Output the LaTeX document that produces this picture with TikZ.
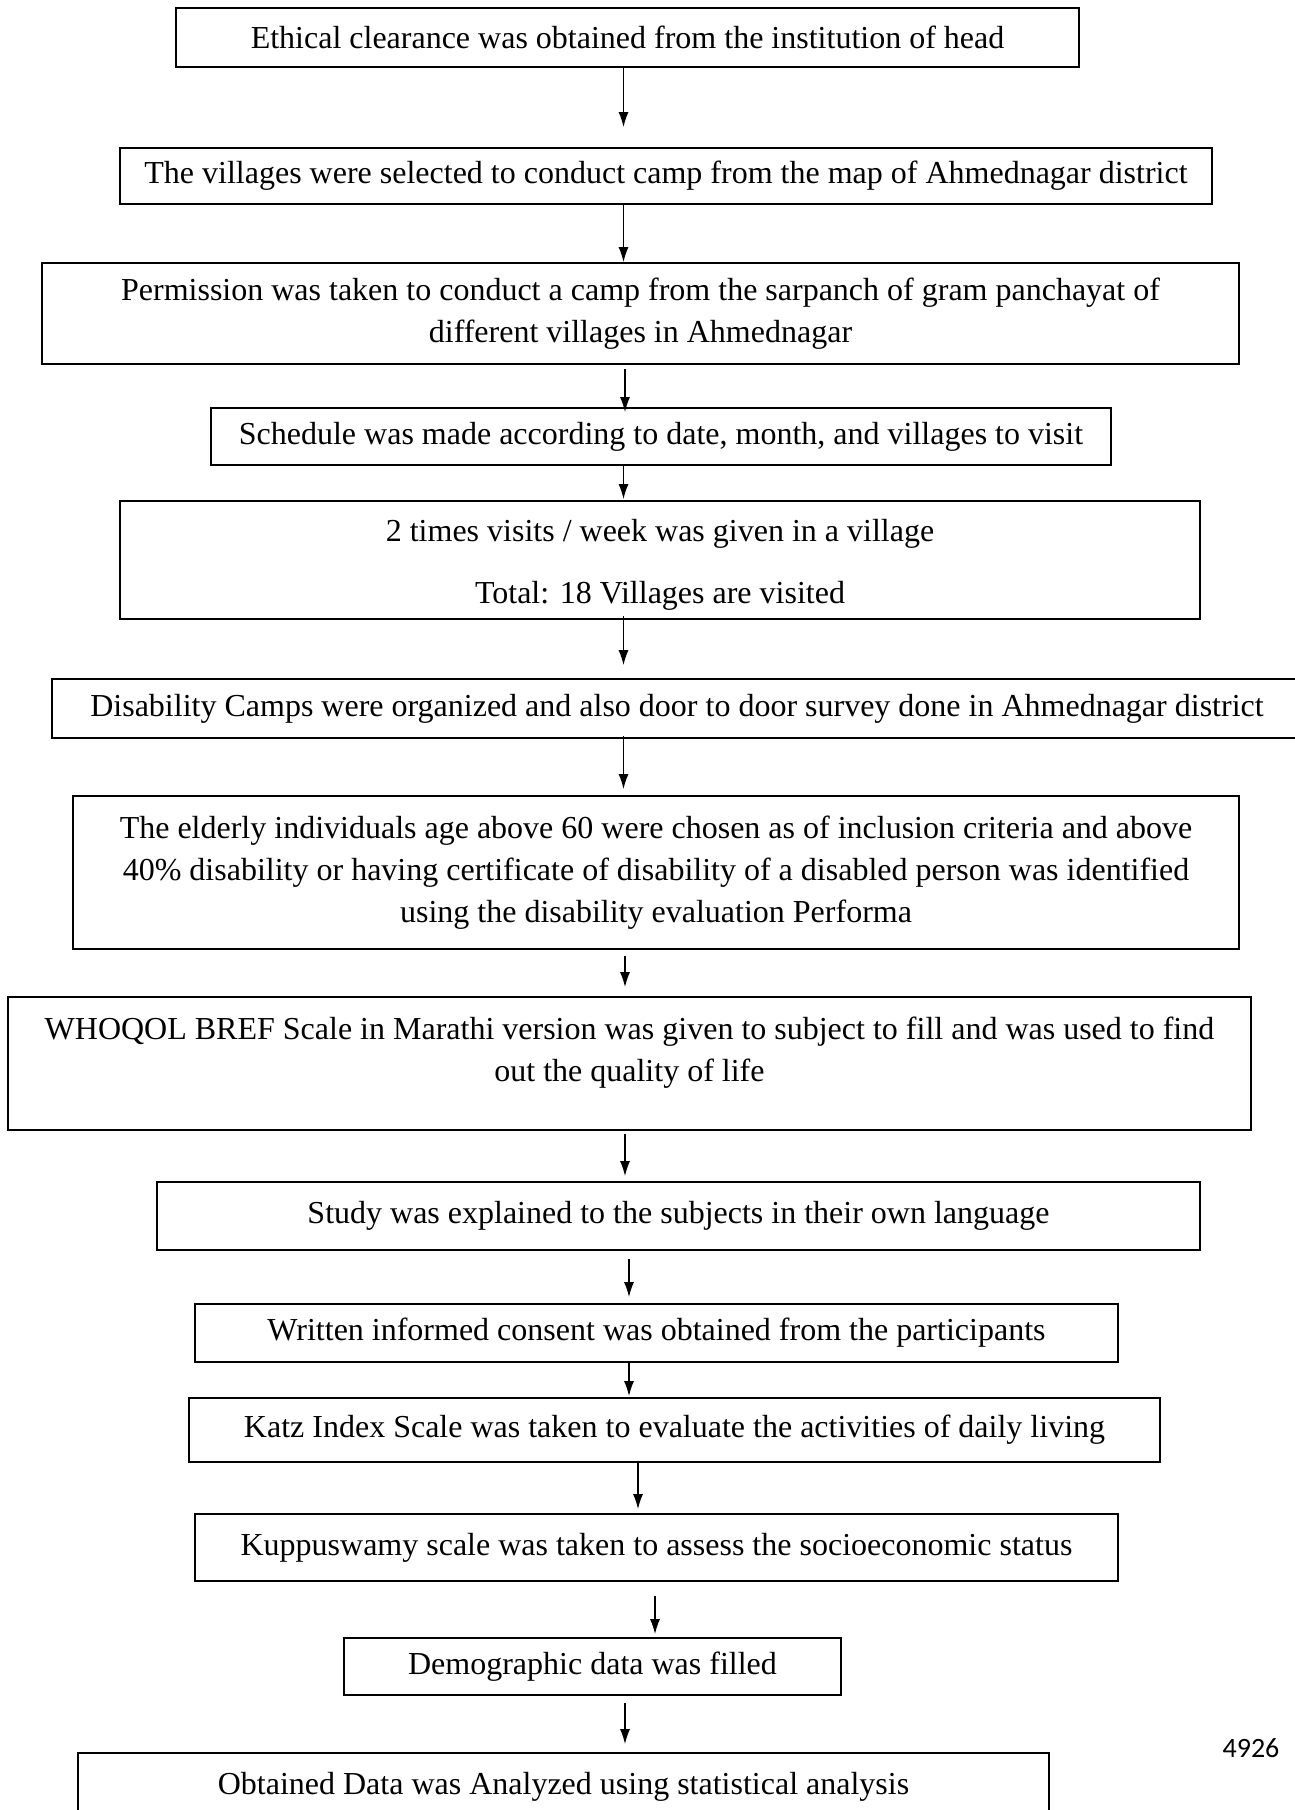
\documentclass[tikz,border=0pt]{standalone}
\usepackage{fontspec}
\setmainfont{Liberation Serif}
\newfontfamily\pagefont{Carlito}
\usetikzlibrary{arrows.meta,calc}

\begin{document}
\begin{tikzpicture}[x=1pt,y=-1pt,
  stage/.style={rectangle,draw,line width=1.7pt,inner sep=0pt,align=center,
    font=\fontsize{32}{42}\selectfont},
  flow/.style={line width=1.5pt,-{Latex[length=15pt,width=10pt]}}]
    \useasboundingbox (0,0) rectangle (1295,1810);
    % Steps
    \node[stage,minimum width=903pt,minimum height=59pt] (ethics) at (627.5,37.5)
      {Ethical clearance was obtained from the institution of head};
    \node[stage,minimum width=1092pt,minimum height=56pt] (villages) at (666,176)
      {The villages were selected to conduct camp from the map of Ahmednagar district};
    \node[stage,minimum width=1197pt,minimum height=101pt] (permission) at (640.5,313.5)
      {Permission was taken to conduct a camp from the sarpanch of gram panchayat of\\
       different villages in Ahmednagar};
    \node[stage,minimum width=900pt,minimum height=57pt] (schedule) at (661,436.5)
      {Schedule was made according to date, month, and villages to visit};
    \node[stage,minimum width=1080pt,minimum height=118pt] (visits) at (660,560)
      {\mbox{}\\[-10pt]2 times visits / week was given in a village\\[20pt]
       Total: 18 Villages are visited};
    \node[stage,minimum width=1250pt,minimum height=59pt] (camps) at (677,708.5)
      {Disability Camps were organized and also door to door survey done in Ahmednagar district};
    \node[stage,minimum width=1166pt,minimum height=153pt] (criteria) at (656,872.5)
      {The elderly individuals age above 60 were chosen as of inclusion criteria and above\\
       40\% disability or having certificate of disability of a disabled person was identified\\
       using the disability evaluation Performa};
    \node[stage,minimum width=1243pt,minimum height=133pt] (whoqol) at (629.5,1063.5)
      {WHOQOL BREF Scale in Marathi version was given to subject to fill and was used to find\\
       out the quality of life\\[-13pt]\mbox{}};
    \node[stage,minimum width=1043pt,minimum height=68pt] (explain) at (678.5,1216)
      {Study was explained to the subjects in their own language};
    \node[stage,minimum width=923pt,minimum height=58pt] (consent) at (656.5,1333)
      {Written informed consent was obtained from the participants};
    \node[stage,minimum width=971pt,minimum height=64pt] (katz) at (674.5,1430)
      {Katz Index Scale was taken to evaluate the activities of daily living};
    \node[stage,minimum width=923pt,minimum height=67pt] (kuppu) at (656.5,1547.5)
      {Kuppuswamy scale was taken to assess the socioeconomic status};
    \node[stage,minimum width=497pt,minimum height=57pt] (demog) at (592.5,1666.5)
      {Demographic data was filled};
    \node[stage,minimum width=971pt,minimum height=67pt] (analysis) at (563.5,1786.5)
      {Obtained Data was Analyzed using statistical analysis};
    % Arrows
    \foreach \a/\b/\ax/\s/\e in {ethics/villages/623.5/0/-20,
        villages/permission/623.5/0/0, permission/schedule/625/4/5,
        schedule/visits/623.5/0/-1, visits/camps/623.5/-4/-13,
        camps/criteria/623.5/-3/-6, criteria/whoqol/625/6/-9,
        whoqol/explain/625/3/-5, explain/consent/629/8/-6,
        consent/katz/629/0/-1, katz/kuppu/638/0/-4,
        kuppu/demog/655/14/-3, demog/analysis/625/7/-8}
      \draw[flow] ($(\a.south -| \ax,0)+(0,\s)$) -- ($(\b.north -| \ax,0)+(0,\e)$);
    \node[font=\pagefont\fontsize{28}{30}\selectfont] (page) at (1251,1748) {4926};
\end{tikzpicture}
\end{document}
